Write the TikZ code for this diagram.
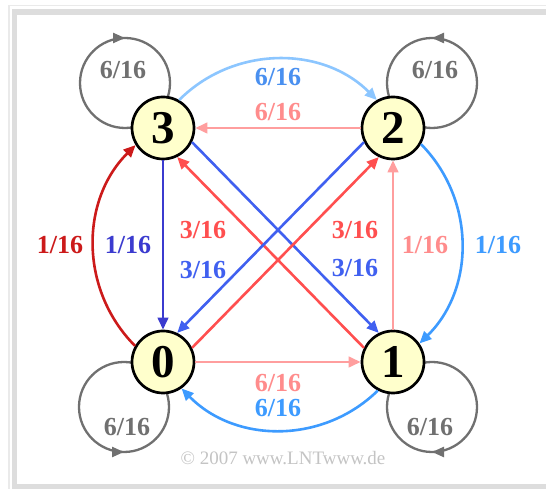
\documentclass[tikz,border=0pt]{standalone}
\usepackage{fontspec}
\setmainfont{Liberation Serif}
\usetikzlibrary{arrows.meta,decorations.markings,calc,backgrounds}
\definecolor{loopgray}{HTML}{707070}
\definecolor{nodeyellow}{HTML}{FFFFCC}
\definecolor{lblue}{HTML}{8CC6FF}
\definecolor{lbluetext}{HTML}{4A90F0}
\definecolor{salmon}{HTML}{FF9E9E}
\definecolor{salmontext}{HTML}{FF8C8C}
\definecolor{indigo}{HTML}{3B3BCF}
\definecolor{darkred}{HTML}{CC1A1A}
\definecolor{diagblue}{HTML}{4060F0}
\definecolor{diagred}{HTML}{FF4F4F}
\definecolor{midblue}{HTML}{3D9BFF}
\definecolor{framegray}{HTML}{DDDDDD}
\definecolor{outergray}{HTML}{EAEAEA}
\definecolor{copygray}{HTML}{C4C4C4}
\begin{document}
\begin{tikzpicture}[x=1pt,y=1pt,
  st/.style={circle, draw=black, line width=2.7pt, fill=nodeyellow, minimum size=62pt, inner sep=0pt, font=\fontsize{47}{47}\selectfont\bfseries},
  lab/.style={font=\fontsize{26}{26}\selectfont\bfseries, inner sep=0pt},
  conn/.style={line width=2.6pt, -{Triangle[length=12pt,width=10.5pt]}},
  selfloop/.style={line width=2.3pt, color=loopgray, postaction={decorate},
    decoration={markings, mark=at position 0.5 with {\arrow{Triangle[length=12pt,width=10pt]}}}}
]
\useasboundingbox (0,0) rectangle (546,489);
\clip (0,0) rectangle (546,489);
% states
\node[st] (n3) at (163,361) {3};
\node[st] (n2) at (393,361) {2};
\node[st] (n0) at (163,127) {0};
\node[st] (n1) at (393,127) {1};
\begin{scope}[on background layer]
  \fill[white] (0,0) rectangle (546,489);
  \draw[outergray, line width=1.5pt] (8.75,-5) -- (8.75,483.25) -- (560,483.25);
  \fill[framegray] (12,0) rectangle (560,480);
  \fill[white] (17,5) rectangle (560,474);
  % self loops
  \draw[selfloop] ($(n3.center)+(-38,0)$) arc[start angle=270, end angle=-90, radius=45];
  \draw[selfloop] ($(n2.center)+(39,0)$) arc[start angle=-90, end angle=270, radius=45];
  \draw[selfloop] ($(n0.center)+(-39,0)$) arc[start angle=90, end angle=450, radius=45];
  \draw[selfloop] ($(n1.center)+(39,0)$) arc[start angle=90, end angle=-270, radius=45];
\end{scope}
% connectors
\draw[conn, color=lblue] (n3.60) to[bend left=45] (n2.120);
\draw[conn, color=salmon] (n2.west) -- (n3.east);
\draw[conn, color=salmon] (n0.east) -- (n1.west);
\draw[conn, color=midblue] (n1.242) to[bend left=45] (n0.305);
\draw[conn, color=indigo] (n3.south) -- (n0.north);
\draw[conn, color=darkred] (n0.150) to[bend left=45] (n3.212);
\draw[conn, color=salmon] (n1.north) -- (n2.south);
\draw[conn, color=midblue] (n2.-30) to[bend left=45] (n1.35);
\draw[conn, color=diagblue] (n3.-26) -- (n1.116);
\draw[conn, color=diagred] (n1.154) -- (n3.-64);
\draw[conn, color=diagblue] (n2.206) -- (n0.64);
\draw[conn, color=diagred] (n0.26) -- (n2.244);
% labels
\node[lab, text=loopgray] (l33) at (123,419) {6/16};
\node[lab, text=loopgray] (l22) at (435,419) {6/16};
\node[lab, text=loopgray] (l00) at (127,62) {6/16};
\node[lab, text=loopgray] (l11) at (430,62) {6/16};
\node[lab, text=lbluetext] (l32) at (278,412) {6/16};
\node[lab, text=salmontext] (l23) at (278,377) {6/16};
\node[lab, text=salmontext] (l01) at (278,106) {6/16};
\node[lab, text=midblue] (l10) at (278,81) {6/16};
\node[lab, text=darkred] (l03) at (60,244) {1/16};
\node[lab, text=indigo] (l30) at (128,244) {1/16};
\node[lab, text=diagred] (l13) at (203,259) {3/16};
\node[lab, text=diagblue] (l20) at (203,219) {3/16};
\node[lab, text=diagred] (l02) at (355,259) {3/16};
\node[lab, text=diagblue] (l31) at (355,221) {3/16};
\node[lab, text=salmontext] (l12) at (425,244) {1/16};
\node[lab, text=midblue] (l21) at (498,244) {1/16};
\node[text=copygray, font=\fontsize{19}{19}\selectfont, inner sep=0pt] (copy) at (283,31) {© 2007 www.LNTwww.de};
\end{tikzpicture}
\end{document}
